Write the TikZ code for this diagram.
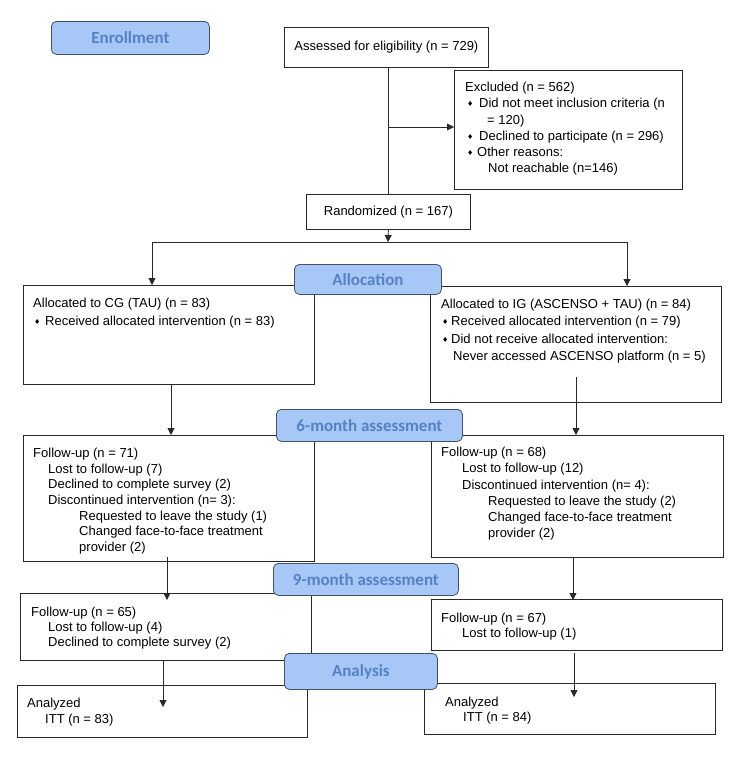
\documentclass[tikz,border=0pt]{standalone}
\usepackage{fontspec}
\setmainfont{Liberation Sans}
\newfontfamily\hdrfont{Carlito}
\newfontfamily\bulfont{DejaVu Sans}
\usetikzlibrary{arrows.meta}
\definecolor{hdrfill}{RGB}{167,199,247}
\definecolor{hdrtext}{RGB}{84,130,194}
\definecolor{hdrdraw}{RGB}{70,80,100}
\definecolor{linec}{RGB}{40,40,40}
\newcommand{\bul}{\raisebox{1pt}{\bulfont\fontsize{7}{7}\selectfont ♦}}
\newcommand{\ind}[1]{\hspace*{#1pt}}
\newcommand{\bl}[1]{\makebox[#1pt][l]{\bul}}
\begin{document}
\begin{tikzpicture}[x=1pt,y=-1pt,
  box/.style={draw=linec, line width=0.8pt, inner sep=0pt, anchor=north west, font=\fontsize{13}{15}\selectfont},
  hdr/.style={draw=hdrdraw, line width=0.8pt, fill=hdrfill, rounded corners=5pt, inner sep=0pt, anchor=north west, font=\hdrfont\bfseries\fontsize{17}{17}\selectfont, text=hdrtext},
  txt/.style={inner sep=0pt, anchor=north west, align=left, font=\fontsize{13}{#1}\selectfont},
  conn/.style={draw=linec, line width=0.8pt},
  arr/.style={conn, -{Triangle[length=7pt,width=7pt]}}]
\fill[white] (0,0) rectangle (738,761);
\useasboundingbox (0,0) rectangle (738,761);

% boxes
\node[box, minimum width=204pt, minimum height=40pt] (assess) at (284,27) {Assessed for eligibility (n = 729)};
\node[box, minimum width=228pt, minimum height=119pt] (excl) at (454,70) {};
\node[box, minimum width=164pt, minimum height=35pt] (rand) at (306,194) {Randomized (n = 167)};
\node[box, minimum width=291pt, minimum height=99pt] (cg) at (23,285) {};
\node[box, minimum width=291pt, minimum height=116pt] (ig) at (430,286) {};
\node[box, minimum width=291pt, minimum height=126pt] (f6l) at (23,435) {};
\node[box, minimum width=292pt, minimum height=122pt] (f6r) at (431,435) {};
\node[box, minimum width=291pt, minimum height=67pt] (f9l) at (20,593) {};
\node[box, minimum width=291pt, minimum height=51pt] (f9r) at (431,599) {};
\node[box, minimum width=290pt, minimum height=52pt] (anl) at (17,685) {};
\node[box, minimum width=291pt, minimum height=51pt] (anr) at (424,683) {};

% texts
\node[txt=16.2] (excltxt) at (465,81.5) {\rule{0pt}{10pt}Excluded (n = 562)\\
\ind{2}\bl{12}Did not meet inclusion criteria (n\\
\ind{22}= 120)\\
\ind{2}\bl{12}Declined to participate (n = 296)\\
\ind{2}\bl{10}Other reasons:\\
\ind{23}Not reachable (n=146)};
\node[txt=17.5] (cgtxt) at (33,297.5) {\rule{0pt}{10pt}Allocated to CG (TAU) (n = 83)\\
\ind{1}\bl{11}Received allocated intervention (n = 83)};
\node[txt=17.2] (igtxt) at (441,298.5) {\rule{0pt}{10pt}Allocated to IG (ASCENSO + TAU) (n = 84)\\
\ind{1}\bl{9}Received allocated intervention (n = 79)\\
\ind{1}\bl{9}Did not receive allocated intervention:\\
\ind{12}Never accessed ASCENSO platform (n = 5)};
\node[txt=15.6] (f6ltxt) at (33,447.5) {\rule{0pt}{10pt}Follow-up (n = 71)\\
\ind{15}Lost to follow-up (7)\\
\ind{15}Declined to complete survey (2)\\
\ind{15}Discontinued intervention (n= 3):\\
\ind{46}Requested to leave the study (1)\\
\ind{46}Changed face-to-face treatment\\
\ind{46}provider (2)};
\node[txt=16.2] (f6rtxt) at (441,446.5) {\rule{0pt}{10pt}Follow-up (n = 68)\\
\ind{21}Lost to follow-up (12)\\
\ind{21}Discontinued intervention (n= 4):\\
\ind{47}Requested to leave the study (2)\\
\ind{47}Changed face-to-face treatment\\
\ind{47}provider (2)};
\node[txt=15] (f9ltxt) at (31,606.5) {\rule{0pt}{10pt}Follow-up (n = 65)\\
\ind{17}Lost to follow-up (4)\\
\ind{17}Declined to complete survey (2)};
\node[txt=15] (f9rtxt) at (441,612.5) {\rule{0pt}{10pt}Follow-up (n = 67)\\
\ind{21}Lost to follow-up (1)};
\node[txt=16] (anltxt) at (27,697.5) {\rule{0pt}{10pt}Analyzed\\
\ind{18}ITT (n = 83)};
\node[txt=15] (anrtxt) at (445,696.5) {\rule{0pt}{10pt}Analyzed\\
\ind{18}ITT (n = 84)};

% connectors
\draw[conn] (rand.north |- assess.south) -- (rand.north);
\coordinate (ex) at (388,127);
\draw[arr] (ex) -- (ex -| excl.west);
\coordinate (split) at (388,242);
\draw[arr] (rand.south) -- (split);
\coordinate (sl) at (152,242);
\coordinate (sr) at (627,242);
\draw[conn] (sl) -- (sr);
\draw[arr] (sl) -- (sl |- cg.north);
\draw[arr] (sr) -- (sr |- ig.north);
\coordinate (a1e) at (171,435);
\draw[arr] (a1e |- cg.south) -- (a1e);
\coordinate (a2s) at (576,377);
\draw[arr] (a2s) -- (a2s |- f6r.north);
\coordinate (a3s) at (167,557);
\coordinate (a3e) at (167,600);
\draw[arr] (a3s) -- (a3e);
\coordinate (a4e) at (573,600);
\draw[arr] (a4e |- f6r.south) -- (a4e);
\coordinate (a5e) at (163,707);
\draw[arr] (a5e |- f9l.south) -- (a5e);
\coordinate (a6s) at (574,653);
\coordinate (a6e) at (574,697);
\draw[arr] (a6s) -- (a6e);

% headers
\node[hdr, minimum width=158pt, minimum height=33pt] (enr) at (51,21) {Enrollment};
\node[hdr, minimum width=147pt, minimum height=30pt] (alloc) at (294,264) {Allocation};
\node[hdr, minimum width=186pt, minimum height=32pt] (six) at (276,409) {6-month assessment};
\node[hdr, minimum width=185pt, minimum height=32pt] (nine) at (273,563) {9-month assessment};
\node[hdr, minimum width=153pt, minimum height=36pt] (ana) at (284,653) {Analysis};
\end{tikzpicture}
\end{document}
